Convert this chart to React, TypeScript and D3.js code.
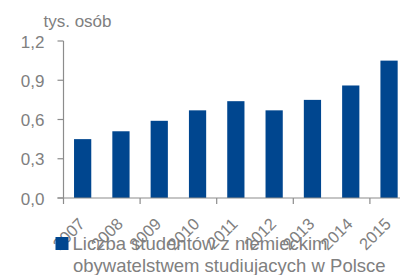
import React from 'react'
import { scaleBand, scaleLinear } from 'd3'

const years = ['2007', '2008', '2009', '2010', '2011', '2012', '2013', '2014', '2015']
const students = [0.45, 0.51, 0.59, 0.67, 0.74, 0.67, 0.75, 0.86, 1.05]
const yTicks = [0, 0.3, 0.6, 0.9, 1.2]
const unitLabel = 'tys. osób'
const legendLines = ['Liczba studentów z niemieckim', 'obywatelstwem studiujacych w Polsce']

const W = 404
const H = 275
const left = 63.5
const top = 41
const bottom = 198
const grey = '#808080'
const axisGrey = '#8c8c8c'
const blue = '#00468f'

const App = () => {
    const y = scaleLinear().domain([0, 1.2]).range([bottom, top])
    const x = scaleBand<string>()
        .domain(years)
        .range([left, left + years.length * 38.3])
        .paddingInner(0.55)
        .paddingOuter(0.275)
    const step = x.step()

    return (
        <svg width={W} height={H} style={{ position: 'absolute', left: 0, top: 0 }}
            fontFamily="'Liberation Sans', Arial, sans-serif">
            <text x={43.5} y={26.5} fontSize={17} fill={grey}>{unitLabel}</text>

            {years.map((yr, i) => (
                <rect key={yr} x={x(yr)} y={y(students[i])} width={x.bandwidth()}
                    height={bottom - y(students[i])} fill={blue} />
            ))}

            <line x1={left} x2={left} y1={top} y2={bottom} stroke={axisGrey} strokeWidth={1.2} />
            {yTicks.map(t => (
                <g key={t}>
                    <line x1={left - 6} x2={left} y1={y(t)} y2={y(t)} stroke={axisGrey} strokeWidth={1.2} />
                    <text x={44.5} y={y(t) + 6.5} textAnchor="end" fontSize={17} fill={grey}>
                        {t.toFixed(1).replace('.', ',')}
                    </text>
                </g>
            ))}

            <line x1={left - 6} x2={400} y1={bottom} y2={bottom} stroke={axisGrey} strokeWidth={1.2} />
            {[0, 2, 4, 6, 8].map(k => (
                <line key={k} x1={left + k * step} x2={left + k * step} y1={bottom} y2={bottom + 6}
                    stroke={axisGrey} strokeWidth={1.2} />
            ))}

            {years.map(yr => {
                const cx = (x(yr) ?? 0) + x.bandwidth() / 2 + 3
                return (
                    <text key={yr} transform={`translate(${cx},${bottom + 27}) rotate(-45)`}
                        textAnchor="end" fontSize={16.5} fill={grey}>{yr}</text>
                )
            })}

            <rect x={55.5} y={237} width={13} height={13} fill={blue} />
            <text x={72.5} y={250} fontSize={18.5} fill={grey}>{legendLines[0]}</text>
            <text x={73} y={272} fontSize={18.5} fill={grey}>{legendLines[1]}</text>
        </svg>
    )
}

export default App
